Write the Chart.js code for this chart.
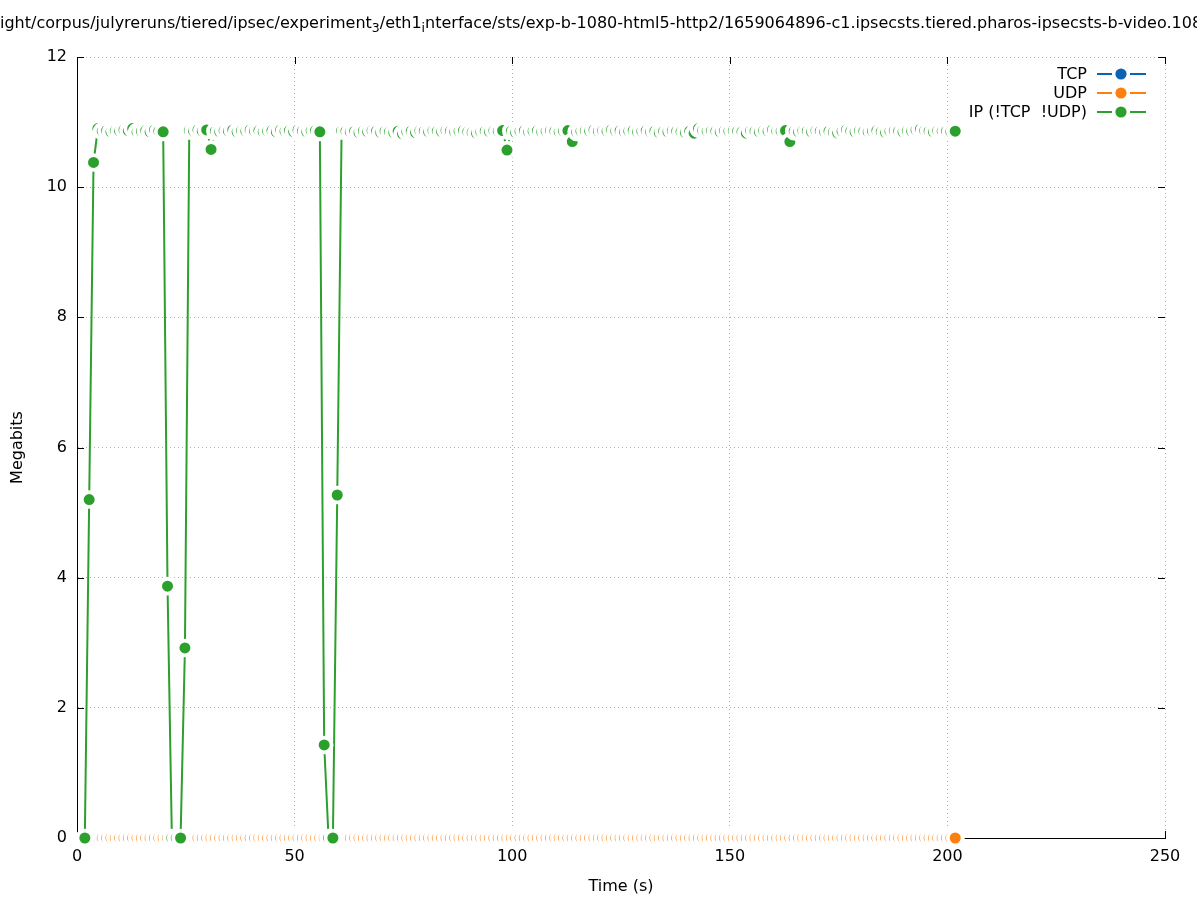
<!DOCTYPE html>
<html><head><meta charset="utf-8">
<script src="https://cdn.jsdelivr.net/npm/chart.js@4.4.0/dist/chart.umd.min.js"></script>
<style>html,body{margin:0;padding:0;background:#fff;overflow:hidden}canvas{display:block}</style>
</head><body>
<canvas id="c" width="1197" height="900"></canvas>
<script>
// ---- data ----
const timesSec = [
  1.8,2.8,3.8,4.8,5.8,6.8,7.8,8.8,9.8,10.8,
  11.8,12.8,13.8,14.8,15.8,16.8,17.8,18.8,19.8,20.8,
  21.8,22.8,23.8,24.8,25.8,26.8,27.8,28.8,29.8,30.8,
  31.8,32.8,33.8,34.8,35.8,36.8,37.8,38.8,39.8,40.8,
  41.8,42.8,43.8,44.8,45.8,46.8,47.8,48.8,49.8,50.8,
  51.8,52.8,53.8,54.8,55.8,56.8,57.8,58.8,59.8,60.8,
  61.8,62.8,63.8,64.8,65.8,66.8,67.8,68.8,69.8,70.8,
  71.8,72.8,73.8,74.8,75.8,76.8,77.8,78.8,79.8,80.8,
  81.8,82.8,83.8,84.8,85.8,86.8,87.8,88.8,89.8,90.8,
  91.8,92.8,93.8,94.8,95.8,96.8,97.8,98.8,99.8,100.8,
  101.8,102.8,103.8,104.8,105.8,106.8,107.8,108.8,109.8,110.8,
  111.8,112.8,113.8,114.8,115.8,116.8,117.8,118.8,119.8,120.8,
  121.8,122.8,123.8,124.8,125.8,126.8,127.8,128.8,129.8,130.8,
  131.8,132.8,133.8,134.8,135.8,136.8,137.8,138.8,139.8,140.8,
  141.8,142.8,143.8,144.8,145.8,146.8,147.8,148.8,149.8,150.8,
  151.8,152.8,153.8,154.8,155.8,156.8,157.8,158.8,159.8,160.8,
  161.8,162.8,163.8,164.8,165.8,166.8,167.8,168.8,169.8,170.8,
  171.8,172.8,173.8,174.8,175.8,176.8,177.8,178.8,179.8,180.8,
  181.8,182.8,183.8,184.8,185.8,186.8,187.8,188.8,189.8,190.8,
  191.8,192.8,193.8,194.8,195.8,196.8,197.8,198.8,199.8,200.8,
  201.8
];
const ipMbits = [
  0,5.2,10.38,10.9,10.86,10.87,10.85,10.87,10.86,10.88,
  10.87,10.9,10.85,10.86,10.87,10.85,10.88,10.86,10.85,3.87,
  0,0,0,2.92,10.87,10.86,10.88,10.86,10.88,10.58,
  10.86,10.85,10.87,10.86,10.88,10.85,10.87,10.86,10.88,10.86,
  10.87,10.85,10.86,10.87,10.85,10.88,10.86,10.87,10.85,10.88,
  10.86,10.85,10.87,10.87,10.85,1.43,0,0,5.27,10.87,
  10.86,10.85,10.86,10.84,10.86,10.85,10.87,10.86,10.84,10.86,
  10.85,10.84,10.86,10.82,10.85,10.86,10.84,10.87,10.86,10.85,
  10.87,10.86,10.85,10.87,10.86,10.85,10.86,10.87,10.85,10.84,
  10.83,10.85,10.86,10.85,10.87,10.86,10.87,10.57,10.86,10.84,
  10.86,10.87,10.85,10.86,10.87,10.85,10.86,10.87,10.86,10.85,
  10.86,10.87,10.70,10.85,10.86,10.87,10.86,10.88,10.86,10.87,
  10.86,10.88,10.86,10.87,10.85,10.86,10.87,10.85,10.86,10.87,
  10.85,10.86,10.84,10.86,10.85,10.87,10.86,10.85,10.84,10.86,
  10.83,10.9,10.87,10.86,10.87,10.86,10.85,10.87,10.86,10.87,
  10.86,10.85,10.83,10.87,10.86,10.85,10.87,10.86,10.88,10.86,
  10.86,10.87,10.70,10.86,10.85,10.87,10.86,10.85,10.87,10.86,
  10.85,10.86,10.84,10.83,10.86,10.88,10.86,10.85,10.87,10.86,
  10.85,10.86,10.87,10.85,10.84,10.86,10.87,10.86,10.85,10.87,
  10.86,10.88,10.89,10.87,10.86,10.85,10.87,10.86,10.86,10.85,
  10.86
];
const udpMbits = [
  0,0,0,0,0,0,0,0,0,0, 0,0,0,0,0,0,0,0,0,0, 0,0,0,0,0,0,0,0,0,0,
  0,0,0,0,0,0,0,0,0,0, 0,0,0,0,0,0,0,0,0,0, 0,0,0,0,0,0,0,0,0,0,
  0,0,0,0,0,0,0,0,0,0, 0,0,0,0,0,0,0,0,0,0, 0,0,0,0,0,0,0,0,0,0,
  0,0,0,0,0,0,0,0,0,0, 0,0,0,0,0,0,0,0,0,0, 0,0,0,0,0,0,0,0,0,0,
  0,0,0,0,0,0,0,0,0,0, 0,0,0,0,0,0,0,0,0,0, 0,0,0,0,0,0,0,0,0,0,
  0,0,0,0,0,0,0,0,0,0, 0,0,0,0,0,0,0,0,0,0, 0,0,0,0,0,0,0,0,0,0,
  0,0,0,0,0,0,0,0,0,0, 0,0,0,0,0,0,0,0,0,0, 0
];
const tcpMbits = [
  0,0,0,0,0,0,0,0,0,0, 0,0,0,0,0,0,0,0,0,0, 0,0,0,0,0,0,0,0,0,0,
  0,0,0,0,0,0,0,0,0,0, 0,0,0,0,0,0,0,0,0,0, 0,0,0,0,0,0,0,0,0,0,
  0,0,0,0,0,0,0,0,0,0, 0,0,0,0,0,0,0,0,0,0, 0,0,0,0,0,0,0,0,0,0,
  0,0,0,0,0,0,0,0,0,0, 0,0,0,0,0,0,0,0,0,0, 0,0,0,0,0,0,0,0,0,0,
  0,0,0,0,0,0,0,0,0,0, 0,0,0,0,0,0,0,0,0,0, 0,0,0,0,0,0,0,0,0,0,
  0,0,0,0,0,0,0,0,0,0, 0,0,0,0,0,0,0,0,0,0, 0,0,0,0,0,0,0,0,0,0,
  0,0,0,0,0,0,0,0,0,0, 0,0,0,0,0,0,0,0,0,0, 0
];
const seriesNames = ['TCP', 'UDP', 'IP (!TCP  !UDP)'];
const seriesColors = ['#0b63b3', '#ff7f0e', '#2ca02c'];
const xTickValues = [0, 50, 100, 150, 200, 250];
const yTickValues = [0, 2, 4, 6, 8, 10, 12];
const titleParts = [
  ['ight/corpus/julyreruns/tiered/ipsec/experiment', false],
  ['3', true],
  ['/eth1', false],
  ['i', true],
  ['nterface/sts/exp-b-1080-html5-http2/1659064896-c1.ipsecsts.tiered.pharos-ipsecsts-b-video.1080', false]
];
const xTitle = 'Time (s)';
const yTitle = 'Megabits';

// ---- chart ----
const FONT = 'DejaVu Sans';
const toPts = vals => timesSec.map((t, i) => ({x: t, y: vals[i]}));

function ds(label, vals, color, order, showLine) {
  return {
    label, data: toPts(vals), order,
    borderColor: color, backgroundColor: color, borderWidth: 2,
    pointBackgroundColor: color, pointBorderColor: '#ffffff',
    pointBorderWidth: 3.8, pointRadius: 7.4, pointHoverRadius: 7.4,
    showLine, tension: 0, clip: false
  };
}

const titlePlugin = {
  id: 'gnuTitle',
  afterDraw(chart) {
    const ctx = chart.ctx;
    ctx.save();
    ctx.fillStyle = '#000';
    ctx.textBaseline = 'alphabetic';
    ctx.textAlign = 'left';
    let x = 0;
    const y = 28;
    for (const [txt, sub] of titleParts) {
      ctx.font = (sub ? '12.5px ' : '16px ') + FONT;
      ctx.fillText(txt, x, sub ? y + 4 : y);
      x += ctx.measureText(txt).width;
    }
    ctx.restore();
  }
};

const ticksPlugin = {
  id: 'inwardTicks',
  beforeDatasetsDraw(chart) {
    const {ctx, chartArea: a, scales} = chart;
    ctx.save();
    ctx.strokeStyle = '#000';
    ctx.lineWidth = 1;
    ctx.beginPath();
    const L = 7;
    for (const v of xTickValues) {
      const px = Math.round(scales.x.getPixelForValue(v)) + 0.5;
      ctx.moveTo(px, a.bottom); ctx.lineTo(px, a.bottom - L);
      ctx.moveTo(px, a.top); ctx.lineTo(px, a.top + L);
    }
    for (const v of yTickValues) {
      const py = Math.round(scales.y.getPixelForValue(v)) + 0.5;
      ctx.moveTo(a.left, py); ctx.lineTo(a.left + L, py);
      ctx.moveTo(a.right, py); ctx.lineTo(a.right - L, py);
    }
    ctx.stroke();
    ctx.restore();
  }
};

const legendPlugin = {
  id: 'gnuLegend',
  afterDraw(chart) {
    const ctx = chart.ctx;
    ctx.save();
    ctx.font = '16px ' + FONT;
    ctx.textAlign = 'right';
    ctx.textBaseline = 'middle';
    seriesNames.forEach((name, i) => {
      const y = 74 + i * 19;
      ctx.fillStyle = '#000';
      ctx.fillText(name, 1087, y + 1);
      ctx.strokeStyle = seriesColors[i];
      ctx.lineWidth = 2;
      ctx.beginPath();
      ctx.moveTo(1097, y); ctx.lineTo(1112, y);
      ctx.moveTo(1130, y); ctx.lineTo(1146, y);
      ctx.stroke();
      ctx.fillStyle = seriesColors[i];
      ctx.beginPath();
      ctx.arc(1121, y, 5.6, 0, Math.PI * 2);
      ctx.fill();
    });
    ctx.restore();
  }
};

const gridColor = '#b0b0b0';
new Chart(document.getElementById('c'), {
  type: 'line',
  data: {
    datasets: [
      ds(seriesNames[0], tcpMbits, seriesColors[0], 2, false),
      ds(seriesNames[1], udpMbits, seriesColors[1], 1, false),
      ds(seriesNames[2], ipMbits, seriesColors[2], 0, true)
    ]
  },
  options: {
    responsive: false, animation: false, devicePixelRatio: 1,
    layout: {padding: {top: 57, right: 32, left: 0, bottom: 0}},
    plugins: {legend: {display: false}, tooltip: {enabled: false}},
    scales: {
      x: {
        type: 'linear', min: 0, max: 250,
        afterFit: s => { s.height = 62; },
        afterBuildTicks: s => { s.ticks = xTickValues.map(v => ({value: v})); },
        ticks: {color: '#000', font: {family: FONT, size: 16}, padding: 9, maxRotation: 0},
        grid: {color: gridColor, lineWidth: 1, drawTicks: false},
        border: {display: true, color: '#000', width: 1, dash: [1, 3]},
        title: {display: true, text: xTitle, color: '#000', font: {family: FONT, size: 16}, padding: {top: 0, bottom: 4}}
      },
      y: {
        type: 'linear', min: 0, max: 12,
        afterFit: s => { s.width = 77; },
        afterBuildTicks: s => { s.ticks = yTickValues.map(v => ({value: v})); },
        ticks: {color: '#000', font: {family: FONT, size: 16}, padding: 10},
        grid: {color: gridColor, lineWidth: 1, drawTicks: false},
        border: {display: true, color: '#000', width: 1, dash: [1, 3]},
        title: {display: true, text: yTitle, color: '#000', font: {family: FONT, size: 16}, padding: {top: 8, bottom: 0}}
      }
    }
  },
  plugins: [ticksPlugin, titlePlugin, legendPlugin]
});
</script>
</body></html>
